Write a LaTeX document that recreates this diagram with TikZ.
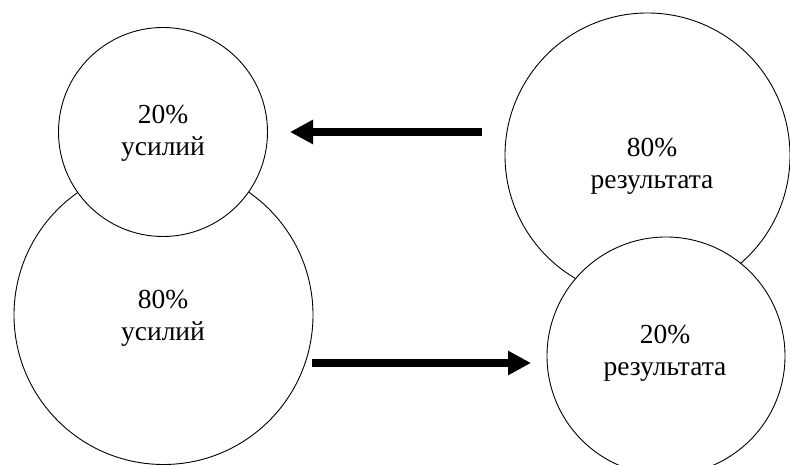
\documentclass[tikz,border=0pt]{standalone}
\usepackage{fontspec}
\setmainfont{Liberation Serif}
\usetikzlibrary{arrows.meta}
\begin{document}
\begin{tikzpicture}[x=1pt,y=1pt,
  ring/.style={circle,draw=black,line width=0.9pt,fill=white,inner sep=0pt,minimum size=#1},
  lbl/.style={align=center,inner sep=0pt,font=\fontsize{27.5}{32}\selectfont},
  bigarrow/.style={line width=8pt,-{Triangle[length=23pt,width=23pt]}}]
\useasboundingbox (0,0) rectangle (790,465);
% left pair
\node[ring=299pt] (bl) at (163.5,150) {};
\node[ring=209pt] (tl) at (163,333) {};
\node[lbl] (tlt) at (163,332) {20\%\\усилий};
\node[lbl] (blt) at (163,147) {80\%\\усилий};
% right pair
\node[ring=285pt] (tr) at (647.5,309.5) {};
\node[ring=238pt] (br) at (666,109) {};
\node[lbl] (trt) at (652,299) {80\%\\результата};
\node[lbl] (brt) at (665,112) {20\%\\результата};
% arrows
\coordinate (a1s) at (482,333);
\coordinate (a1e) at (290,333);
\coordinate (a2s) at (312,102);
\coordinate (a2e) at (531,102);
\draw[bigarrow] (a1s) -- (a1e);
\draw[bigarrow] (a2s) -- (a2e);
\end{tikzpicture}
\end{document}
